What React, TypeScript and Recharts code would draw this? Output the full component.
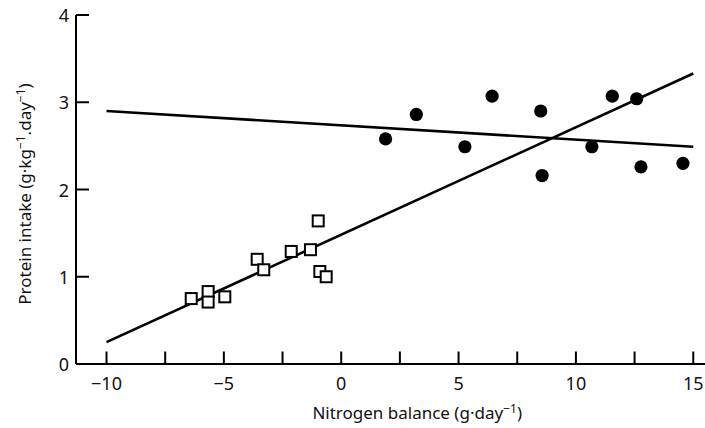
import { ComposedChart, Line, Scatter, XAxis, YAxis } from "recharts";

// low-protein group (open squares)
const lowX = [-0.98, -1.31, -2.13, -3.58, -3.3, -0.91, -0.64, -5.67, -5.67, -6.39, -4.96];
const lowY = [1.64, 1.31, 1.29, 1.2, 1.08, 1.06, 1.0, 0.83, 0.71, 0.75, 0.77];

// high-protein group (filled dots)
const highX = [1.89, 3.2, 6.43, 5.27, 8.5, 8.56, 11.55, 12.59, 10.68, 12.77, 14.56];
const highY = [2.58, 2.86, 3.07, 2.49, 2.9, 2.16, 3.07, 3.04, 2.49, 2.26, 2.3];

// fitted lines, end points read at x = -10 and x = 15
const fitX = [-10, 15];
const flatFitY = [2.9, 2.49];
const steepFitY = [0.25, 3.33];

const xTicks = [-10, -7.5, -5, -2.5, 0, 2.5, 5, 7.5, 10, 12.5, 15];
const yTicks = [0, 1, 2, 3, 4];

const pts = (xs: number[], ys: number[]) => xs.map((x, i) => ({ x, y: ys[i] }));
const low = pts(lowX, lowY);
const high = pts(highX, highY);
const flatFit = pts(fitX, flatFitY);
const steepFit = pts(fitX, steepFitY);

const font = "'Noto Sans', 'Open Sans', sans-serif";
const minus = (v: number) => (v < 0 ? `\u2212${Math.abs(v)}` : `${v}`);

function YTick({ x, y, payload }: any) {
  return (
    <g>
      <line x1={x + 7} x2={x + 20} y1={y} y2={y} stroke="#000" strokeWidth={2} />
      <text x={x} y={y} textAnchor="end" dominantBaseline="central" fontSize={18} fontFamily={font} fill="#111">
        {payload.value}
      </text>
    </g>
  );
}

function XTick({ x, y, payload }: any) {
  const v = payload.value as number;
  return (
    <g>
      <line x1={x} x2={x} y1={y} y2={y - 12.5} stroke="#000" strokeWidth={2} />
      {v % 5 === 0 && (
        <text x={x} y={y + 26} textAnchor="middle" fontSize={18} fontFamily={font} fill="#111">
          {minus(v)}
        </text>
      )}
    </g>
  );
}

const Square = ({ cx, cy }: any) => (
  <rect x={cx - 5.5} y={cy - 5.5} width={11} height={11} fill="#fff" stroke="#000" strokeWidth={2} />
);
const Dot = ({ cx, cy }: any) => <circle cx={cx} cy={cy} r={6.6} fill="#000" />;

const XTitle = () => (
  <text x={522} y={419} textAnchor="end" fontSize={17} fontFamily={font} fill="#111">
    Nitrogen balance (g·day
    <tspan dy={-6} fontSize={12}>−1</tspan>
    <tspan dy={6}>)</tspan>
  </text>
);

const YTitle = () => (
  <text x={0} y={0} transform="translate(31 194) rotate(-90)" textAnchor="middle" fontSize={17} fontFamily={font} fill="#111">
    Protein intake (g·kg
    <tspan dy={-6} fontSize={12}>−1</tspan>
    <tspan dy={6}>.day</tspan>
    <tspan dy={-6} fontSize={12}>−1</tspan>
    <tspan dy={6}>)</tspan>
  </text>
);

export default function App() {
  return (
    <div style={{ position: "absolute", left: 0, top: 0, background: "#fff" }}>
      <ComposedChart width={705} height={428} margin={{ top: 15, right: 0, left: 75, bottom: 63 }}>
        <XAxis
          dataKey="x"
          type="number"
          domain={[-11.3, 15.5]}
          ticks={xTicks}
          interval={0}
          allowDataOverflow
          height={1}
          tickSize={0}
          tickMargin={0}
          tickLine={false}
          axisLine={{ stroke: "#000", strokeWidth: 2 }}
          tick={<XTick />}
          label={{ content: <XTitle /> }}
        />
        <YAxis
          dataKey="y"
          type="number"
          domain={[0, 4]}
          ticks={yTicks}
          interval={0}
          width={1}
          tickSize={0}
          tickMargin={7}
          tickLine={false}
          axisLine={{ stroke: "#000", strokeWidth: 2 }}
          tick={<YTick />}
          label={{ content: <YTitle /> }}
        />
        <Line data={flatFit} dataKey="y" type="linear" stroke="#000" strokeWidth={2.6} dot={false} isAnimationActive={false} />
        <Line data={steepFit} dataKey="y" type="linear" stroke="#000" strokeWidth={2.6} dot={false} isAnimationActive={false} />
        <Scatter data={low} dataKey="y" shape={<Square />} isAnimationActive={false} />
        <Scatter data={high} dataKey="y" shape={<Dot />} isAnimationActive={false} />
      </ComposedChart>
    </div>
  );
}
